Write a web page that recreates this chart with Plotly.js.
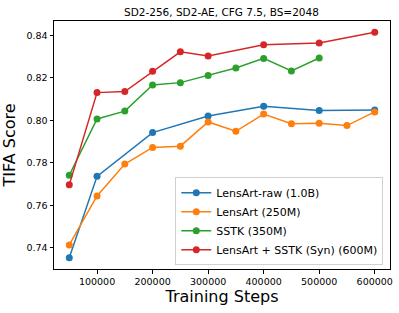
<!DOCTYPE html>
<html><head><meta charset="utf-8">
<script src="https://cdn.plot.ly/plotly-3.0.1.min.js"></script>
<style>html,body{margin:0;padding:0;background:#fff}#c{width:399px;height:313px}</style>
</head><body><div id="c"></div>
<script>
const stepsRaw = [50000, 100000, 200000, 300000, 400000, 500000, 600000];
const lensArtRaw = [0.7353, 0.7736, 0.7942, 0.8020, 0.8066, 0.8046, 0.8048];
const stepsLensArt = [50000, 100000, 150000, 200000, 250000, 300000, 350000, 400000, 450000, 500000, 550000, 600000];
const lensArt = [0.7413, 0.7644, 0.7794, 0.7872, 0.7878, 0.7992, 0.7948, 0.8029, 0.7984, 0.7986, 0.7975, 0.8039];
const stepsSSTK = [50000, 100000, 150000, 200000, 250000, 300000, 350000, 400000, 450000, 500000];
const sstk = [0.7741, 0.8006, 0.8043, 0.8166, 0.8177, 0.8210, 0.8246, 0.8291, 0.8232, 0.8293];
const stepsSyn = [50000, 100000, 150000, 200000, 250000, 300000, 400000, 500000, 600000];
const lensArtSSTKSyn = [0.7696, 0.8130, 0.8135, 0.8230, 0.8322, 0.8302, 0.8355, 0.8363, 0.8414];
const seriesNames = ["LensArt-raw (1.0B)", "LensArt (250M)", "SSTK (350M)", "LensArt + SSTK (Syn) (600M)"];
const colors = ["#1f77b4", "#ff7f0e", "#2ca02c", "#d62728"];

const xs = [stepsRaw, stepsLensArt, stepsSSTK, stepsSyn];
const ys = [lensArtRaw, lensArt, sstk, lensArtSSTKSyn];
const traces = ys.map((y, i) => ({
  x: xs[i], y: y, name: seriesNames[i], type: 'scatter', mode: 'lines+markers',
  line: {color: colors[i], width: 1.5},
  marker: {color: colors[i], size: 7}
}));
const font = "DejaVu Sans, sans-serif";
const layout = {
  width: 399, height: 313,
  margin: {l: 54, r: 9, t: 21, b: 44},
  paper_bgcolor: '#fff', plot_bgcolor: '#fff',
  font: {family: font, color: '#000', size: 10},
  title: {text: 'SD2-256, SD2-AE, CFG 7.5, BS=2048', font: {size: 10.5, family: font}, x: 0.555, xanchor: 'center', y: 0.962, yanchor: 'middle'},
  xaxis: {
    range: [22500, 627500], tickvals: [100000, 200000, 300000, 400000, 500000, 600000],
    tickformat: 'd', ticks: 'outside', ticklen: 3.5, tickcolor: '#000',
    showline: true, mirror: true, linecolor: '#000', linewidth: 1,
    showgrid: false, zeroline: false, tickfont: {size: 9.5},
    title: {text: 'Training Steps', font: {size: 16}, standoff: 4}
  },
  yaxis: {
    range: [0.7300, 0.8467], tickvals: [0.74, 0.76, 0.78, 0.80, 0.82, 0.84],
    tickformat: '.2f', ticks: 'outside', ticklen: 3.5, tickcolor: '#000',
    showline: true, mirror: true, linecolor: '#000', linewidth: 1,
    showgrid: false, zeroline: false, tickfont: {size: 9.5},
    title: {text: 'TIFA Score', font: {size: 16}, standoff: 6}
  },
  legend: {x: 0.98, xanchor: 'right', y: 0.015, yanchor: 'bottom',
    bordercolor: '#d0d0d0', borderwidth: 1, bgcolor: 'rgba(255,255,255,0.8)',
    font: {size: 11}, tracegroupgap: 0, itemwidth: 30},
  showlegend: true
};
Plotly.newPlot('c', traces, layout, {displayModeBar: false, staticPlot: true});
</script></body></html>
